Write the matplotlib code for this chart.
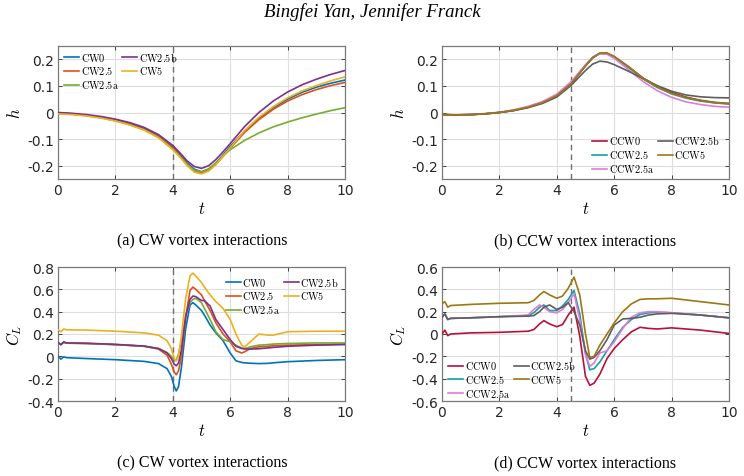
import matplotlib
matplotlib.use('Agg')
import matplotlib.pyplot as plt

plt.rcParams['mathtext.fontset'] = 'cm'

# ---------------- data ----------------
# (a) CW heave h(t)
t_a = [0, 0.5, 1, 1.5, 2, 2.5, 3, 3.5, 4, 4.25, 4.5, 4.75, 5, 5.25, 5.5, 5.75,
       6, 6.5, 7, 7.5, 8, 8.5, 9, 9.5, 10]
h_cw0 = [-0.002, -0.005, -0.01, -0.018, -0.028, -0.042, -0.06, -0.088, -0.13, -0.158, -0.19, -0.213,
         -0.223, -0.213, -0.19, -0.16, -0.128, -0.07, -0.022, 0.018, 0.05, 0.076, 0.095, 0.11, 0.122]
h_cw25 = [-0.003, -0.006, -0.011, -0.019, -0.03, -0.044, -0.062, -0.09, -0.133, -0.162, -0.195, -0.22,
          -0.228, -0.218, -0.195, -0.165, -0.135, -0.075, -0.027, 0.012, 0.043, 0.067, 0.086, 0.101, 0.113]
h_cw25a = [-0.004, -0.007, -0.012, -0.02, -0.031, -0.046, -0.065, -0.093, -0.137, -0.165, -0.196, -0.217,
           -0.223, -0.212, -0.19, -0.163, -0.14, -0.105, -0.077, -0.054, -0.036, -0.02, -0.006, 0.007, 0.018]
h_cw25b = [0.0, -0.003, -0.008, -0.015, -0.025, -0.038, -0.056, -0.083, -0.124, -0.152, -0.182, -0.203,
           -0.21, -0.2, -0.177, -0.148, -0.117, -0.053, 0.0, 0.043, 0.077, 0.104, 0.125, 0.143, 0.158]
h_cw5 = [-0.005, -0.008, -0.013, -0.021, -0.032, -0.047, -0.066, -0.095, -0.14, -0.168, -0.2, -0.224,
         -0.231, -0.22, -0.196, -0.165, -0.133, -0.068, -0.018, 0.022, 0.055, 0.081, 0.101, 0.119, 0.134]

# (b) CCW heave h(t)
t_b = [0, 0.5, 1, 1.5, 2, 2.5, 3, 3.5, 4, 4.5, 5, 5.25, 5.5, 5.75, 6, 6.5, 7, 7.5, 8, 8.5, 9, 9.5, 10]
h_ccw0 = [-0.008, -0.009, -0.008, -0.005, 0.0, 0.008, 0.02, 0.037, 0.063, 0.108, 0.175, 0.205, 0.222,
          0.222, 0.21, 0.172, 0.13, 0.098, 0.075, 0.058, 0.046, 0.038, 0.034]
h_ccw25 = [-0.008, -0.009, -0.008, -0.005, 0.0, 0.008, 0.02, 0.037, 0.064, 0.11, 0.176, 0.206, 0.222,
           0.221, 0.208, 0.169, 0.127, 0.094, 0.07, 0.054, 0.043, 0.036, 0.032]
h_ccw25a = [-0.008, -0.009, -0.008, -0.004, 0.001, 0.01, 0.023, 0.041, 0.069, 0.116, 0.18, 0.208, 0.222,
            0.219, 0.204, 0.161, 0.117, 0.082, 0.057, 0.04, 0.03, 0.023, 0.02]
h_ccw25b = [-0.008, -0.009, -0.008, -0.005, 0.0, 0.007, 0.018, 0.034, 0.058, 0.102, 0.158, 0.182, 0.193,
            0.19, 0.18, 0.155, 0.128, 0.101, 0.08, 0.066, 0.059, 0.056, 0.055]
h_ccw5 = [-0.008, -0.009, -0.008, -0.005, 0.0, 0.008, 0.02, 0.037, 0.063, 0.108, 0.176, 0.207, 0.224,
          0.224, 0.211, 0.172, 0.129, 0.096, 0.072, 0.056, 0.045, 0.037, 0.033]

# (c) CW lift C_L(t)
t_c = [0, 0.1, 0.2, 0.3, 1, 2, 3, 3.5, 3.8, 3.95, 4.05, 4.12, 4.2, 4.3, 4.45, 4.6, 4.7, 4.8, 5.0,
       5.1, 5.3, 5.5, 5.75, 6.0, 6.2, 6.4, 6.5, 6.7, 7.0, 7.3, 7.5, 8.0, 9.0, 10.0]
cl_cw0 = [0.0, -0.025, -0.005, -0.012, -0.02, -0.03, -0.045, -0.065, -0.11, -0.18, -0.27, -0.31,
          -0.27, -0.1, 0.25, 0.46, 0.48, 0.46, 0.41, 0.37, 0.28, 0.21, 0.14, 0.03, -0.04, -0.055,
          -0.058, -0.062, -0.065, -0.063, -0.058, -0.048, -0.037, -0.03]
cl_cw25 = [0.12, 0.105, 0.125, 0.118, 0.115, 0.105, 0.09, 0.065, 0.01, -0.07, -0.14, -0.165, -0.13,
           0.0, 0.35, 0.59, 0.62, 0.6, 0.55, 0.5, 0.41, 0.3, 0.2, 0.13, 0.05, 0.03, 0.04, 0.07,
           0.085, 0.09, 0.095, 0.1, 0.105, 0.11]
cl_cw25a = [0.12, 0.105, 0.125, 0.118, 0.115, 0.105, 0.09, 0.07, 0.035, 0.0, -0.04, -0.035, 0.02,
            0.14, 0.36, 0.48, 0.51, 0.52, 0.48, 0.43, 0.33, 0.22, 0.15, 0.13, 0.1, 0.075, 0.07,
            0.085, 0.1, 0.105, 0.11, 0.115, 0.12, 0.12]
cl_cw25b = [0.125, 0.105, 0.13, 0.12, 0.117, 0.107, 0.092, 0.07, 0.03, -0.02, -0.07, -0.085, -0.06,
            0.06, 0.36, 0.51, 0.54, 0.535, 0.5, 0.5, 0.45, 0.33, 0.24, 0.15, 0.09, 0.07, 0.066,
            0.065, 0.068, 0.075, 0.08, 0.09, 0.1, 0.105]
cl_cw5 = [0.24, 0.22, 0.245, 0.238, 0.235, 0.225, 0.21, 0.19, 0.14, 0.07, -0.02, -0.04, 0.0, 0.18,
          0.52, 0.72, 0.745, 0.72, 0.66, 0.62, 0.55, 0.49, 0.43, 0.33, 0.2, 0.1, 0.085, 0.13, 0.2,
          0.19, 0.19, 0.22, 0.225, 0.225]

# (d) CCW lift C_L(t)
t_d = [0, 0.1, 0.2, 0.3, 1, 2, 3, 3.2, 3.4, 3.55, 3.75, 4.0, 4.2, 4.4, 4.6, 4.8, 5.0, 5.15, 5.3, 5.5,
       5.75, 6.0, 6.3, 6.6, 6.9, 7.2, 7.5, 8, 9, 10]
cl_ccw0 = [0.0, 0.035, -0.015, 0.0, 0.01, 0.015, 0.025, 0.04, 0.09, 0.12, 0.09, 0.065, 0.085, 0.17,
           0.24, -0.02, -0.38, -0.46, -0.44, -0.36, -0.22, -0.13, -0.05, 0.02, 0.06, 0.05, 0.045,
           0.055, 0.035, 0.005]
cl_ccw25 = [0.15, 0.18, 0.13, 0.14, 0.145, 0.155, 0.165, 0.19, 0.24, 0.26, 0.21, 0.21, 0.25, 0.31,
            0.39, 0.18, -0.18, -0.32, -0.31, -0.25, -0.15, -0.05, 0.06, 0.13, 0.175, 0.19, 0.195,
            0.19, 0.17, 0.145]
cl_ccw25a = [0.15, 0.18, 0.13, 0.14, 0.145, 0.155, 0.17, 0.22, 0.26, 0.24, 0.2, 0.19, 0.22, 0.28,
             0.36, 0.13, -0.18, -0.29, -0.26, -0.17, -0.15, -0.07, 0.05, 0.15, 0.19, 0.2, 0.2, 0.19,
             0.17, 0.145]
cl_ccw25b = [0.15, 0.18, 0.13, 0.14, 0.145, 0.155, 0.16, 0.165, 0.2, 0.24, 0.26, 0.22, 0.24, 0.28,
             0.2, 0.08, -0.15, -0.225, -0.21, -0.15, -0.05, 0.08, 0.135, 0.14, 0.15, 0.17, 0.18,
             0.185, 0.17, 0.145]
cl_ccw5 = [0.27, 0.29, 0.24, 0.255, 0.265, 0.275, 0.28, 0.3, 0.35, 0.38, 0.35, 0.32, 0.34, 0.41,
           0.51, 0.35, 0.0, -0.21, -0.2, -0.1, 0.0, 0.1, 0.2, 0.27, 0.31, 0.315, 0.315, 0.32, 0.29,
           0.26]

cw_names = ['CW0', 'CW2.5', 'CW2.5a', 'CW2.5b', 'CW5']
ccw_names = ['CCW0', 'CCW2.5', 'CCW2.5a', 'CCW2.5b', 'CCW5']
cw_colors = ['#0072BD', '#D95319', '#77AC30', '#7E2F8E', '#EDB120']
ccw_colors = ['#B5123A', '#13A3A3', '#E07BD8', '#5E5E5E', '#9C7812']

# ---------------- figure ----------------
W, H = 744, 477
fig = plt.figure(figsize=(W / 100, H / 100), dpi=100)


def make_ax(x0, y0, x1, y1):
    # pixel box (top-left origin) -> figure fraction
    return fig.add_axes([x0 / W, 1 - y1 / H, (x1 - x0) / W, (y1 - y0) / H])


def style(ax, ylim, yticks, ylabel, vline):
    ax.set_xlim(0, 10)
    ax.set_ylim(*ylim)
    ax.set_xticks([0, 2, 4, 6, 8, 10])
    ax.set_yticks(yticks)
    ax.set_yticklabels(['0' if v == 0 else ('%g' % v) for v in yticks])
    ax.grid(True, color='#dedede', linewidth=0.8)
    ax.set_axisbelow(True)
    ax.tick_params(direction='in', top=True, right=True, length=3, width=0.6,
                   labelsize=10, colors='#262626', pad=3)
    for s in ax.spines.values():
        s.set_color('#7a7a7a')
        s.set_linewidth(0.9)
    ax.axvline(vline, color='#6e6e6e', linestyle=(0, (4, 3)), linewidth=1.0, zorder=1)
    ax.set_xlabel('$t$', fontsize=12, labelpad=1)
    ax.set_ylabel(ylabel, fontsize=12, labelpad=2)


def draw(ax, t, series, names, colors, loc, anchor):
    for y, n, c in zip(series, names, colors):
        ax.plot(t, y, color=c, linewidth=1.2, label=r'$\mathrm{%s}$' % n, zorder=3)
    ax.legend(loc=loc, bbox_to_anchor=anchor, ncol=2, frameon=False, fontsize=7.4,
              handlelength=1.45, handletextpad=0.15, columnspacing=0.35, labelspacing=0.18,
              borderaxespad=0.2)


ax_a = make_ax(58, 47, 345, 180)
draw(ax_a, t_a, [h_cw0, h_cw25, h_cw25a, h_cw25b, h_cw5], cw_names, cw_colors,
     'upper left', (0.0, 1.02))
style(ax_a, (-0.25, 0.25), [-0.2, -0.1, 0, 0.1, 0.2], '$h$', 4.0)

ax_b = make_ax(442, 47, 729, 180)
draw(ax_b, t_b, [h_ccw0, h_ccw25, h_ccw25a, h_ccw25b, h_ccw5], ccw_names, ccw_colors,
     'lower right', (0.99, -0.01))
style(ax_b, (-0.25, 0.25), [-0.2, -0.1, 0, 0.1, 0.2], '$h$', 4.5)

ax_c = make_ax(58, 268, 345, 402)
draw(ax_c, t_c, [cl_cw0, cl_cw25, cl_cw25a, cl_cw25b, cl_cw5], cw_names, cw_colors,
     'upper right', (1.0, 0.99))
style(ax_c, (-0.4, 0.8), [-0.4, -0.2, 0, 0.2, 0.4, 0.6, 0.8], '$C_L$', 4.0)

ax_d = make_ax(442, 268, 729, 402)
draw(ax_d, t_d, [cl_ccw0, cl_ccw25, cl_ccw25a, cl_ccw25b, cl_ccw5], ccw_names, ccw_colors,
     'lower left', (0.0, -0.03))
style(ax_d, (-0.6, 0.6), [-0.6, -0.4, -0.2, 0, 0.2, 0.4, 0.6], '$C_L$', 4.5)

# title and captions
serif = 'Liberation Serif'
fig.text(0.5, 1 - 12 / H, 'Bingfei Yan, Jennifer Franck', ha='center', va='center',
         fontsize=13.5, style='italic', family=serif)
fig.text(202 / W, 1 - 241 / H, '(a) CW vortex interactions', ha='center', va='center',
         fontsize=11.5, family=serif)
fig.text(585 / W, 1 - 241 / H, '(b) CCW vortex interactions', ha='center', va='center',
         fontsize=11.5, family=serif)
fig.text(202 / W, 1 - 463 / H, '(c) CW vortex interactions', ha='center', va='center',
         fontsize=11.5, family=serif)
fig.text(585 / W, 1 - 463 / H, '(d) CCW vortex interactions', ha='center', va='center',
         fontsize=11.5, family=serif)

fig.savefig('out.png', dpi=100)
